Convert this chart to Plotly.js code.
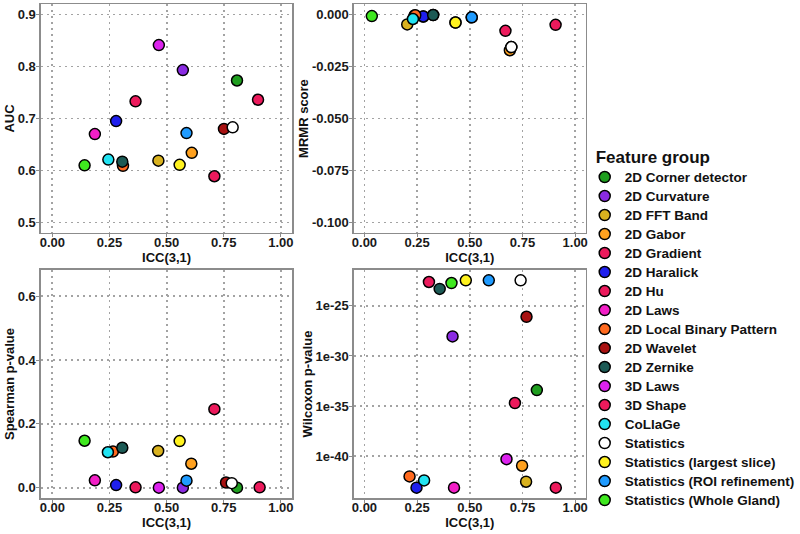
<!DOCTYPE html>
<html>
<head>
<meta charset="utf-8">
<script src="https://cdn.plot.ly/plotly-3.0.1.min.js"></script>
<style>html,body{margin:0;padding:0;background:#fff;}#chart{width:800px;height:534px;}</style>
</head>
<body>
<div id="chart"></div>
<script>
// Feature groups (legend order) and their colours
const groups = [
  "2D Corner detector", "2D Curvature", "2D FFT Band", "2D Gabor", "2D Gradient",
  "2D Haralick", "2D Hu", "2D Laws", "2D Local Binary Pattern", "2D Wavelet",
  "2D Zernike", "3D Laws", "3D Shape", "CoLlaGe", "Statistics",
  "Statistics (largest slice)", "Statistics (ROI refinement)", "Statistics (Whole Gland)"
];
const colors = [
  "#1f9e1f", "#8a2be2", "#d9b21f", "#ffa11f", "#ec1a5c",
  "#1f1fee", "#ec1a5c", "#f21fc6", "#ff6a1f", "#a81212",
  "#1c5a55", "#dc22ee", "#ec1a5c", "#22e3f2", "#ffffff",
  "#fff21f", "#1f9bff", "#3fe81f"
];

// Panel 1: AUC vs ICC(3,1)
const aucICC = [0.808, 0.571, 0.464, 0.610, 0.709, 0.279, 0.364, 0.186, 0.309, 0.751, 0.306, 0.466, 0.900, 0.245, 0.789, 0.557, 0.587, 0.141];
const aucVal = [0.773, 0.793, 0.619, 0.634, 0.589, 0.695, 0.733, 0.670, 0.609, 0.680, 0.617, 0.841, 0.736, 0.621, 0.683, 0.611, 0.672, 0.610];

// Panel 2: MRMR score vs ICC(3,1)
const mrmrICC = [0.279, 0.326, 0.203, 0.690, 0.669, 0.279, 0.238, 0.509, 0.241, 0.697, 0.326, 0.432, 0.907, 0.230, 0.697, 0.432, 0.509, 0.035];
const mrmrVal = [-0.0010, -0.0003, -0.0048, -0.0172, -0.0079, -0.0010, -0.0005, -0.0014, -0.0004, -0.0157, -0.0003, -0.0039, -0.0050, -0.0022, -0.0157, -0.0039, -0.0014, -0.0008];

// Panel 3: Spearman p-value vs ICC(3,1)
const spICC = [0.808, 0.571, 0.463, 0.608, 0.709, 0.279, 0.364, 0.186, 0.265, 0.760, 0.306, 0.466, 0.907, 0.243, 0.785, 0.557, 0.587, 0.141];
const spVal = [0.000, 0.000, 0.115, 0.075, 0.246, 0.008, 0.001, 0.023, 0.113, 0.016, 0.125, 0.000, 0.001, 0.111, 0.014, 0.146, 0.022, 0.147];

// Panel 4: Wilcoxon p-value vs ICC(3,1)
const wxICC = [0.818, 0.418, 0.767, 0.748, 0.714, 0.247, 0.306, 0.425, 0.214, 0.769, 0.357, 0.674, 0.908, 0.283, 0.741, 0.481, 0.590, 0.413];
const wxVal = [3.9e-34, 8.9e-29, 2.8e-43, 1.1e-41, 2.0e-35, 7.1e-44, 2.4e-23, 7.1e-44, 9.5e-43, 8.1e-27, 4.9e-24, 5.0e-41, 7.1e-44, 3.8e-43, 3.5e-23, 3.5e-23, 3.5e-23, 1.9e-23];

// Tick labels
const iccTicks = [0, 0.25, 0.5, 0.75, 1];
const iccTickText = ["0.00", "0.25", "0.50", "0.75", "1.00"];
const aucTicks = [0.5, 0.6, 0.7, 0.8, 0.9];
const aucTickText = ["0.5", "0.6", "0.7", "0.8", "0.9"];
const mrmrTicks = [-0.1, -0.075, -0.05, -0.025, 0];
const mrmrTickText = ["-0.100", "-0.075", "-0.050", "-0.025", "0.000"];
const spTicks = [0, 0.2, 0.4, 0.6];
const spTickText = ["0.0", "0.2", "0.4", "0.6"];
const wxTicks = [1e-40, 1e-35, 1e-30, 1e-25];
const wxTickText = ["1e-40", "1e-35", "1e-30", "1e-25"];

const panels = [
  {xs: aucICC, ys: aucVal, xa: "x", ya: "y"},
  {xs: mrmrICC, ys: mrmrVal, xa: "x2", ya: "y2"},
  {xs: spICC, ys: spVal, xa: "x3", ya: "y3"},
  {xs: wxICC, ys: wxVal, xa: "x4", ya: "y4"}
];

const traces = [];
panels.forEach((p, pi) => {
  groups.forEach((g, gi) => {
    traces.push({
      type: "scatter", mode: "markers",
      x: [p.xs[gi]], y: [p.ys[gi]],
      xaxis: p.xa, yaxis: p.ya,
      name: '<span style="font-size:13.5px">' + g + '</span>',
      legendgroup: g, showlegend: pi === 0,
      marker: {size: 11, color: colors[gi], line: {color: "#000", width: 1.5}},
      hoverinfo: "x+y"
    });
  });
});

const FAM = "Liberation Sans, Arial, sans-serif";
const tickFont = {family: FAM, size: 13, color: "#1a1a1a", weight: 700};
const titleFont = {family: FAM, size: 13, color: "#111", weight: 700};

function xAxis(domain, anchor) {
  return {
    domain: domain, anchor: anchor, range: [-0.05, 1.05],
    tickvals: iccTicks, ticktext: iccTickText, tickfont: tickFont,
    ticklabelstandoff: -6,
    title: {text: "ICC(3,1)", font: titleFont, standoff: 0},
    showline: true, mirror: true, linecolor: "#8c8c8c", linewidth: 1.5,
    ticks: "outside", ticklen: 3, tickcolor: "#8c8c8c", tickwidth: 1,
    showgrid: true, gridcolor: "#a3a3a3", gridwidth: 1.8, griddash: "2px,4px",
    zeroline: false, fixedrange: true
  };
}
function yAxis(domain, anchor, title, range, tv, tt, type) {
  return {
    domain: domain, anchor: anchor, range: range, type: type || "linear",
    tickvals: tv, ticktext: tt, tickfont: tickFont,
    ticklabelstandoff: -2,
    title: {text: title, font: titleFont, standoff: 0},
    showline: true, mirror: true, linecolor: "#8c8c8c", linewidth: 1.5,
    ticks: "outside", ticklen: 3, tickcolor: "#8c8c8c", tickwidth: 1,
    showgrid: true, gridcolor: "#a3a3a3", gridwidth: 1.8, griddash: "2px,4px",
    zeroline: false, fixedrange: true
  };
}

const xdL = [0.0513, 0.3663], xdR = [0.4435, 0.734];
const ydT = [0.5637, 0.9925], ydB = [0.0674, 0.4944];

const layout = {
  width: 800, height: 534,
  margin: {l: 0, r: 0, t: 0, b: 0},
  paper_bgcolor: "#fff", plot_bgcolor: "#fff",
  showlegend: true,
  xaxis: xAxis(xdL, "y"),
  yaxis: yAxis(ydT, "x", "AUC", [0.48, 0.92], aucTicks, aucTickText),
  xaxis2: xAxis(xdR, "y2"),
  yaxis2: yAxis(ydT, "x2", "MRMR score", [-0.105, 0.005], mrmrTicks, mrmrTickText),
  xaxis3: xAxis(xdL, "y3"),
  yaxis3: yAxis(ydB, "x3", "Spearman p-value", [-0.0325, 0.6825], spTicks, spTickText),
  xaxis4: xAxis(xdR, "y4"),
  yaxis4: yAxis(ydB, "x4", "Wilcoxon p-value", [-44.18, -21.42], wxTicks, wxTickText, "log"),
  legend: {
    x: 0.744, xanchor: "left", y: 0.737, yanchor: "top",
    indentation: -9,
    title: {text: "Feature group", font: {family: FAM, size: 17, color: "#111", weight: 700}},
    font: {family: FAM, size: 12, color: "#111", weight: 700},
    bgcolor: "rgba(0,0,0,0)", tracegroupgap: 0, itemclick: false, itemdoubleclick: false
  }
};

Plotly.newPlot("chart", traces, layout, {displayModeBar: false, staticPlot: true});
</script>
</body>
</html>
